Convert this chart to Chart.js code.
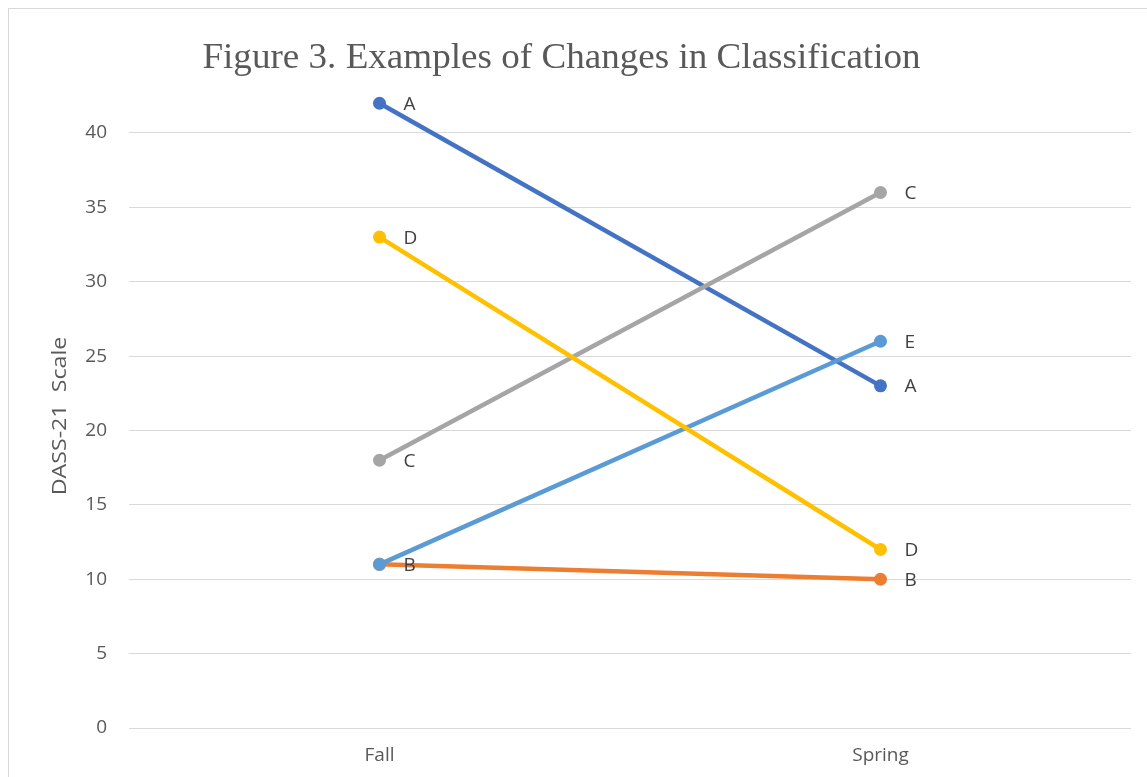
<!DOCTYPE html>
<html>
<head>
<meta charset="utf-8">
<script src="https://cdn.jsdelivr.net/npm/chart.js@4/dist/chart.umd.min.js"></script>
<style>
  html, body { margin: 0; padding: 0; background: #ffffff; overflow: hidden; }
  #wrap { width: 1147px; height: 777px; position: relative; }
</style>
</head>
<body>
<div id="wrap"><canvas id="c" width="1147" height="777"></canvas></div>
<script>
// Survey periods on the x axis
const categories = ['Fall', 'Spring'];

// DASS-21 scores per example student
const seriesA = [42, 23];
const seriesB = [11, 10];
const seriesC = [18, 36];
const seriesD = [33, 12];
const seriesE = [11, 26];

// Letters printed beside each point
const labelsA = ['A', 'A'];
const labelsB = ['B', 'B'];
const labelsC = ['C', 'C'];
const labelsD = ['D', 'D'];
const labelsE = ['', 'E'];

// Value axis
const yTicks = [0, 5, 10, 15, 20, 25, 30, 35, 40];
const yMin = 0;
const yMax = 45;

const titleText = 'Figure 3. Examples of Changes in Classification';
const yTitleText = 'DASS-21  Scale';

const sansFont = '"Open Sans", "Liberation Sans", sans-serif';

function lineSet(label, data, pointLabels, color) {
  return {
    label: label,
    data: data,
    pointLabels: pointLabels,
    borderColor: color,
    backgroundColor: color,
    borderWidth: 4.5,
    pointRadius: 6.5,
    pointBorderWidth: 0,
    pointBackgroundColor: color,
    tension: 0,
    fill: false
  };
}

// Frame, title and rotated axis caption
const decorations = {
  id: 'decorations',
  beforeDraw(chart) {
    const ctx = chart.ctx;
    ctx.save();
    ctx.fillStyle = '#ffffff';
    ctx.fillRect(0, 0, chart.width, chart.height);
    ctx.strokeStyle = '#d9d9d9';
    ctx.lineWidth = 1;
    ctx.strokeRect(8.5, 8.5, chart.width + 20, chart.height + 20);
    ctx.restore();
  },
  afterDraw(chart) {
    const ctx = chart.ctx;
    ctx.save();
    ctx.fillStyle = '#595959';
    ctx.textAlign = 'center';
    ctx.textBaseline = 'alphabetic';
    ctx.save();
    ctx.translate(561.5, 68);
    ctx.scale(1.06, 1);
    ctx.font = '35px "Liberation Serif", "Times New Roman", serif';
    ctx.fillText(titleText, 0, 0);
    ctx.restore();

    ctx.translate(60, 416);
    ctx.rotate(-Math.PI / 2);
    ctx.scale(1.16, 1);
    ctx.font = '20px ' + sansFont;
    ctx.textBaseline = 'middle';
    ctx.fillText(yTitleText, 0, 0);
    ctx.restore();
  }
};

// Letters next to each point, placed from the drawn point elements
const pointLetters = {
  id: 'pointLetters',
  afterDatasetsDraw(chart) {
    const ctx = chart.ctx;
    ctx.save();
    ctx.fillStyle = '#404040';
    ctx.font = '19px ' + sansFont;
    ctx.textAlign = 'left';
    ctx.textBaseline = 'middle';
    chart.data.datasets.forEach((ds, i) => {
      const meta = chart.getDatasetMeta(i);
      meta.data.forEach((el, j) => {
        const txt = ds.pointLabels[j];
        if (txt) ctx.fillText(txt, el.x + 24, el.y + 1);
      });
    });
    ctx.restore();
  }
};

new Chart(document.getElementById('c'), {
  type: 'line',
  data: {
    labels: categories,
    // first dataset is drawn top-most
    datasets: [
      lineSet('D', seriesD, labelsD, '#FFC000'),
      lineSet('E', seriesE, labelsE, '#5B9BD5'),
      lineSet('C', seriesC, labelsC, '#A5A5A5'),
      lineSet('B', seriesB, labelsB, '#ED7D31'),
      lineSet('A', seriesA, labelsA, '#4472C4')
    ]
  },
  options: {
    responsive: false,
    animation: false,
    events: [],
    layout: { padding: { left: 0, right: 16, top: 58.6, bottom: 0 } },
    plugins: {
      legend: { display: false },
      title: { display: false },
      tooltip: { enabled: false }
    },
    scales: {
      x: {
        type: 'category',
        offset: true,
        grid: { display: false, drawTicks: false },
        border: { display: false },
        ticks: { color: '#595959', font: { family: sansFont, size: 19 }, padding: 16, maxRotation: 0 },
        afterFit(scale) { scale.height = 49; }
      },
      y: {
        min: yMin,
        max: yMax,
        grid: { color: '#d9d9d9', lineWidth: 1, drawTicks: false },
        border: { display: false },
        ticks: { color: '#595959', font: { family: sansFont, size: 19 }, padding: 22 },
        afterBuildTicks(scale) { scale.ticks = yTicks.map(v => ({ value: v })); },
        afterFit(scale) { scale.width = 129; }
      }
    }
  },
  plugins: [decorations, pointLetters]
});
</script>
</body>
</html>
